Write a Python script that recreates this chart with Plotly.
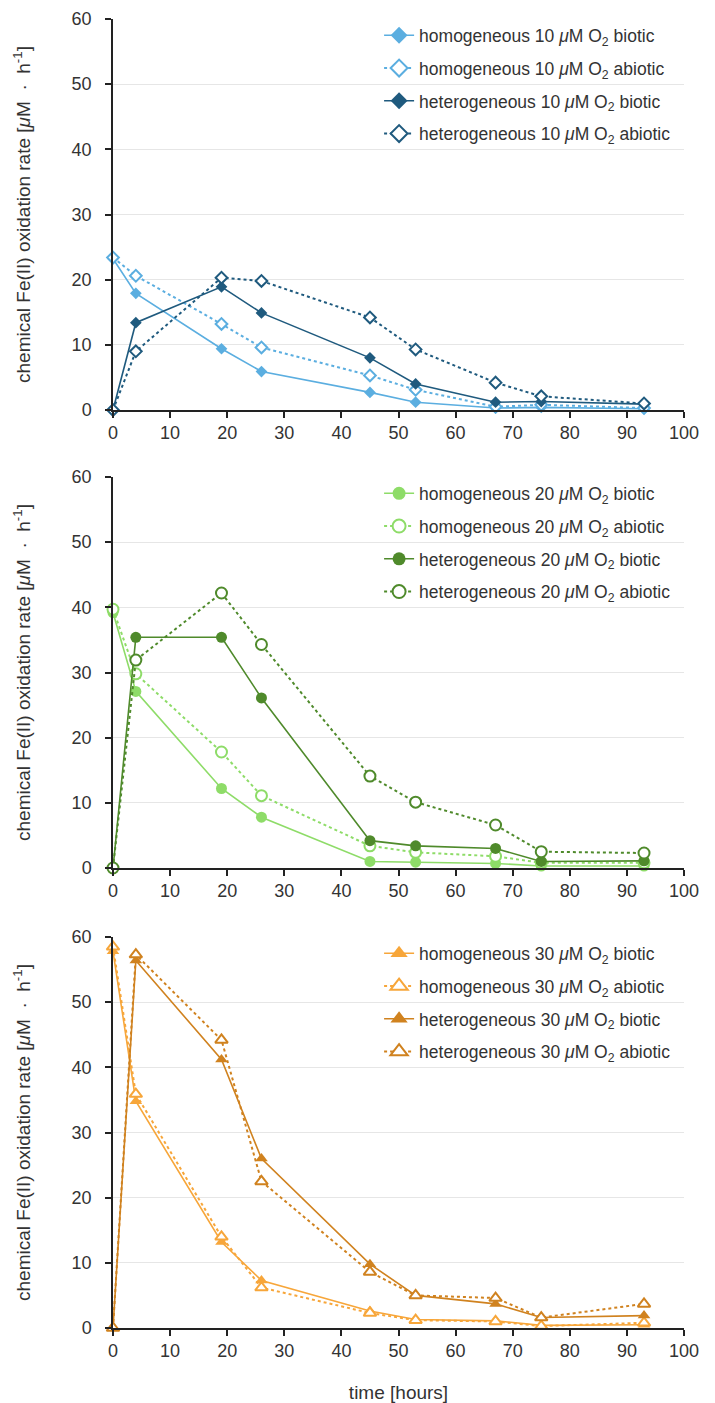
import plotly.graph_objects as go

# ---------------- data ----------------
time_h = [0, 4, 19, 26, 45, 53, 67, 75, 93]

homo10_biotic = [23.2, 17.9, 9.4, 5.9, 2.7, 1.2, 0.3, 0.4, 0.2]
homo10_abiotic = [23.4, 20.6, 13.2, 9.6, 5.3, 3.1, 0.5, 0.8, 0.3]
hetero10_biotic = [0, 13.4, 18.9, 14.9, 8.0, 4.0, 1.2, 1.3, 0.9]
hetero10_abiotic = [0, 9.0, 20.3, 19.8, 14.2, 9.3, 4.2, 2.1, 1.0]

homo20_biotic = [39.2, 27.1, 12.2, 7.8, 1.0, 0.9, 0.7, 0.3, 0.3]
homo20_abiotic = [39.7, 29.8, 17.8, 11.1, 3.4, 2.4, 1.8, 0.8, 0.8]
hetero20_biotic = [0, 35.4, 35.4, 26.1, 4.2, 3.4, 3.0, 1.0, 1.1]
hetero20_abiotic = [0, 31.9, 42.2, 34.3, 14.1, 10.1, 6.6, 2.5, 2.3]

homo30_biotic = [57.8, 34.8, 13.2, 7.3, 2.6, 1.3, 1.1, 0.4, 0.5]
homo30_abiotic = [58.5, 35.9, 14.0, 6.2, 2.3, 1.2, 1.0, 0.3, 0.8]
hetero30_biotic = [0, 56.4, 41.2, 26.0, 9.8, 5.0, 3.7, 1.6, 1.9]
hetero30_abiotic = [0, 57.3, 44.2, 22.5, 8.6, 5.0, 4.6, 1.6, 3.7]

o2_levels = ["10", "20", "30"]
x_ticks = [0, 10, 20, 30, 40, 50, 60, 70, 80, 90, 100]
y_ticks = [0, 10, 20, 30, 40, 50, 60]

# ---------------- styles ----------------
FONT = "Liberation Sans, Arial, Helvetica, sans-serif"
TXT = "#333333"
panels = [
    dict(level="10", symbol="diamond", size=9, lsize=13,
         light="#5BAEE0", dark="#1F5A7E",
         series=[homo10_biotic, homo10_abiotic, hetero10_biotic, hetero10_abiotic]),
    dict(level="20", symbol="circle", size=11, lsize=13,
         light="#8EDC68", dark="#4F8A2B",
         series=[homo20_biotic, homo20_abiotic, hetero20_biotic, hetero20_abiotic]),
    dict(level="30", symbol="triangle-up", size=11, lsize=15,
         light="#F7A63A", dark="#D0821F",
         series=[homo30_biotic, homo30_abiotic, hetero30_biotic, hetero30_abiotic]),
]

W, H = 715, 1403
ML, MR, MT, MB = 113, 31, 19, 75
PH = H - MT - MB
px_spans = [(19, 410), (477, 868), (937, 1328)]
domains = []
for top, bot in px_spans:
    d0 = (H - MB - bot) / PH
    d1 = (H - MB - top) / PH
    domains.append([max(0.0, d0), min(1.0, d1)])

fig = go.Figure()

for i, p in enumerate(panels):
    ax = "" if i == 0 else str(i + 1)
    xref, yref = "x" + ax, "y" + ax
    legname = "legend" if i == 0 else "legend" + str(i + 1)
    kinds = [("homogeneous", "biotic", p["light"], True),
             ("homogeneous", "abiotic", p["light"], False),
             ("heterogeneous", "biotic", p["dark"], True),
             ("heterogeneous", "abiotic", p["dark"], False)]
    for (mix, bio, col, filled), ys in zip(kinds, p["series"]):
        name = f"{mix} {p['level']} <i>μ</i>M O<sub>2</sub> {bio}"
        line = dict(color=col, width=1.6 if filled else 2, dash="solid" if filled else "dot")
        marker = dict(symbol=p["symbol"], size=p["size"],
                      color=col if filled else "white",
                      line=dict(color=col, width=0 if filled else 2))
        fig.add_trace(go.Scatter(x=time_h, y=ys, mode="lines+markers", name=name,
                                 line=line, marker=marker, xaxis=xref, yaxis=yref,
                                 showlegend=False, cliponaxis=False))
        lmarker = dict(marker)
        lmarker["size"] = p["lsize"]
        fig.add_trace(go.Scatter(x=[None], y=[None], mode="lines+markers", name=name,
                                 line=line, marker=lmarker, xaxis=xref, yaxis=yref,
                                 showlegend=True, legend=legname,
                                 legendgroup=f"{i}-{mix}-{bio}"))

layout = dict(
    width=W, height=H,
    margin=dict(l=ML, r=MR, t=MT, b=MB, autoexpand=False),
    paper_bgcolor="white", plot_bgcolor="white",
    font=dict(family=FONT, size=17, color=TXT),
)

for i in range(3):
    ax = "" if i == 0 else str(i + 1)
    layout["xaxis" + ax] = dict(
        domain=[0, 1], anchor="y" + ax, range=[0, 100], automargin=False,
        tickvals=x_ticks, ticktext=[str(v) for v in x_ticks],
        showgrid=False, zeroline=False,
        showline=True, linecolor="#222222", linewidth=1.5,
        ticks="outside", ticklen=6, tickwidth=1.5, tickcolor="#222222",
        tickfont=dict(size=18, color=TXT),
        title=dict(text="time [hours]" if i == 2 else "", standoff=26,
                   font=dict(size=19, color=TXT)),
    )
    layout["yaxis" + ax] = dict(
        domain=domains[i], anchor="x" + ax, range=[0, 60], automargin=False,
        tickvals=y_ticks, ticktext=[str(v) for v in y_ticks],
        showgrid=True, gridcolor="#e6e6e6", gridwidth=1,
        zeroline=False,
        showline=True, linecolor="#222222", linewidth=1.5,
        ticks="outside", ticklen=6, tickwidth=1.5, tickcolor="#222222",
        ticklabelstandoff=10,
        tickfont=dict(size=18, color=TXT),
        title=dict(text="chemical Fe(II) oxidation rate [<i>μ</i>M  ·  h<sup>-1</sup>]",
                   standoff=36, font=dict(size=19, color=TXT)),
    )
    legname = "legend" if i == 0 else "legend" + str(i + 1)
    layout[legname] = dict(
        x=0.466, xanchor="left", y=domains[i][1] + 0.0012, yanchor="top",
        bgcolor="rgba(0,0,0,0)", borderwidth=0,
        font=dict(family=FONT, size=17.5, color=TXT),
        tracegroupgap=7, traceorder="grouped",
    )

fig.update_layout(**layout)
fig.write_html("out.html")
